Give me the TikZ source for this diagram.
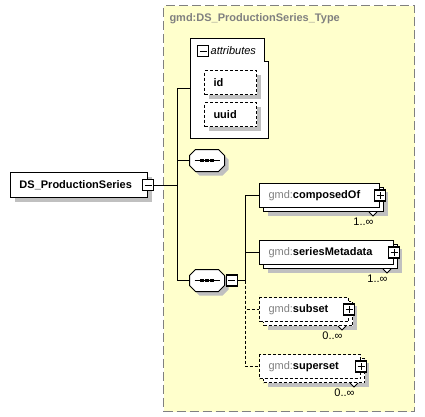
\documentclass[tikz,border=0pt]{standalone}
\usepackage{fontspec}
\setmainfont{Liberation Sans}
\usepackage{xcolor}
\usepackage{tikz}
\usetikzlibrary{positioning, shadows}

\definecolor{typefill}{RGB}{255,255,204}
\definecolor{prefixgray}{RGB}{128,128,128}
\definecolor{shadowgray}{RGB}{192,192,192}

\newcommand{\gmdprefix}{\textcolor{prefixgray}{\mdseries gmd:}}

\begin{document}
\begin{tikzpicture}[
    x=1pt, y=-1pt,
    line width=1pt,
    font=\fontsize{11}{13}\selectfont,
    type box/.style={draw=prefixgray, fill=typefill, line width=1.3pt, dash pattern=on 9pt off 4pt,
        minimum width=251pt, minimum height=406pt, anchor=north west, inner sep=0pt},
    elem/.style={draw, fill=white, font=\fontsize{11}{13}\selectfont\bfseries, inner xsep=9pt,
        inner ysep=0pt, minimum height=24pt, anchor=north west, align=left},
    shadowed/.style={copy shadow={shadow xshift=4pt, shadow yshift=-4pt, fill=shadowgray, draw=none}},
    stacked/.style={copy shadow={shadow xshift=8pt, shadow yshift=-8pt, fill=shadowgray, draw=none},
        copy shadow={shadow xshift=4pt, shadow yshift=-4pt, fill=white, draw=black}},
    optional/.style={dash pattern=on 3pt off 2pt}
]

\tikzset{
    pm/.style={draw, fill=white, minimum width=11pt, minimum height=11pt, inner sep=0pt, line width=1.2pt},
    minusbox/.style={pm, path picture={
        \draw[line width=1pt] ([xshift=2pt]path picture bounding box.west) -- ([xshift=-2pt]path picture bounding box.east);}},
    plusbox/.style={pm, path picture={
        \draw[line width=1pt] ([xshift=2pt]path picture bounding box.west) -- ([xshift=-2pt]path picture bounding box.east);
        \draw[line width=1pt] ([yshift=-2pt]path picture bounding box.north) -- ([yshift=2pt]path picture bounding box.south);}},
    seqbox/.style={minimum width=34pt, minimum height=21pt, inner sep=0pt},
    seq outline/.style={insert path={
        ([xshift=6pt]#1.north west) -- ([xshift=-6pt]#1.north east) -- ([yshift=-6pt]#1.north east)
        -- ([yshift=6pt]#1.south east) -- ([xshift=-6pt]#1.south east) -- ([xshift=6pt]#1.south west)
        -- ([yshift=6pt]#1.south west) -- ([yshift=-6pt]#1.north west) -- cycle}},
    mult/.style={anchor=north east, inner sep=0pt}
}

\useasboundingbox (0,0) rectangle (425,416);

% --- 1. Complex type frame ---
\node[type box] (ptype) at (163,5) {};
\node[anchor=west, inner sep=0pt, text=prefixgray, font=\fontsize{11}{13}\selectfont\bfseries]
    (ptype title) at (169,19) {gmd:DS\_ProductionSeries\_Type};

% --- 2. Root element ---
\node[elem, shadowed, text width=119pt, minimum height=25pt] (ds) at (10,172) {DS\_ProductionSeries};
\node[minusbox] (ds minus) at (ds.east) {};

% --- 3. Attributes ---
\node[minimum width=77pt, minimum height=99pt, anchor=north west, inner sep=0pt] (attr) at (190,38) {};
\draw[fill=white] (attr.north west) -- ([xshift=-4pt]attr.north east)
    -- ([shift={(-4pt,-23pt)}]attr.north east) -- ([yshift=-23pt]attr.north east)
    -- (attr.south east) -- (attr.south west) -- cycle;
\node[minusbox, anchor=west] (attr minus) at (197,51) {};
\node[anchor=west, inner sep=0pt, font=\fontsize{11}{13}\selectfont\itshape, right=1pt of attr minus] (attr title) {attributes};

\node[elem, optional, shadowed, text width=34pt] (id) at (204,70) {id};
\node[elem, optional, shadowed, text width=34pt] (uuid) at (204,102) {uuid};

% --- 4. Sequences ---
\node[seqbox] (seq1) at (207,160.5) {};
\node[seqbox] (seq2) at (207,280.5) {};
\foreach \s in {seq1, seq2}{
    \fill[shadowgray, transform canvas={shift={(4pt,-4pt)}}, seq outline=\s];
    \draw[fill=white, seq outline=\s];
    \draw ([xshift=5pt]\s.west) -- ([xshift=-5pt]\s.east);
    \foreach \dx in {-5,0,5}
        \fill ([xshift=\dx pt]\s.center) +(-1.6pt,-1.6pt) rectangle +(1.6pt,1.6pt);
}
\node[minusbox, anchor=west] (seq2 minus) at ([xshift=1pt]seq2.east) {};

% --- 5. Child elements ---
\node[elem, stacked, text width=102pt] (composedOf) at (259,183) {\gmdprefix composedOf};
\node[elem, stacked, text width=116pt] (seriesMetadata) at (259,240) {\gmdprefix seriesMetadata};
\node[elem, stacked, optional, text width=71pt] (subset) at (259,297) {\gmdprefix subset};
\node[elem, stacked, optional, text width=83pt] (superset) at (259,354) {\gmdprefix superset};

\foreach \n/\m in {composedOf/1, seriesMetadata/1, subset/0, superset/0}{
    \draw[line width=0.8pt, fill=white] ([shift={(-11pt,-4pt)}]\n.south east) -- ++(4pt,-4pt) -- ++(4pt,4pt);
    \node[plusbox] (\n plus) at (\n.east) {};
    \node[mult] (\n mult) at ([shift={(-6pt,-9pt)}]\n.south east) {\m..∞};
}

% --- 6. Connectors ---
\coordinate (trunk) at ([xshift=23pt]ds minus.east);
\draw (ds minus) -- (trunk);
\draw (trunk) |- (attr);
\draw (trunk) |- (seq1);
\draw (trunk) |- (seq2);

\coordinate (branch) at ([xshift=8pt]seq2 minus.east);
\draw (seq2 minus) -- (branch);
\draw (branch) |- (composedOf);
\draw (branch) |- (seriesMetadata);
\draw[optional] (branch) |- (subset);
\draw[optional] (branch) |- (superset);

\end{tikzpicture}
\end{document}
